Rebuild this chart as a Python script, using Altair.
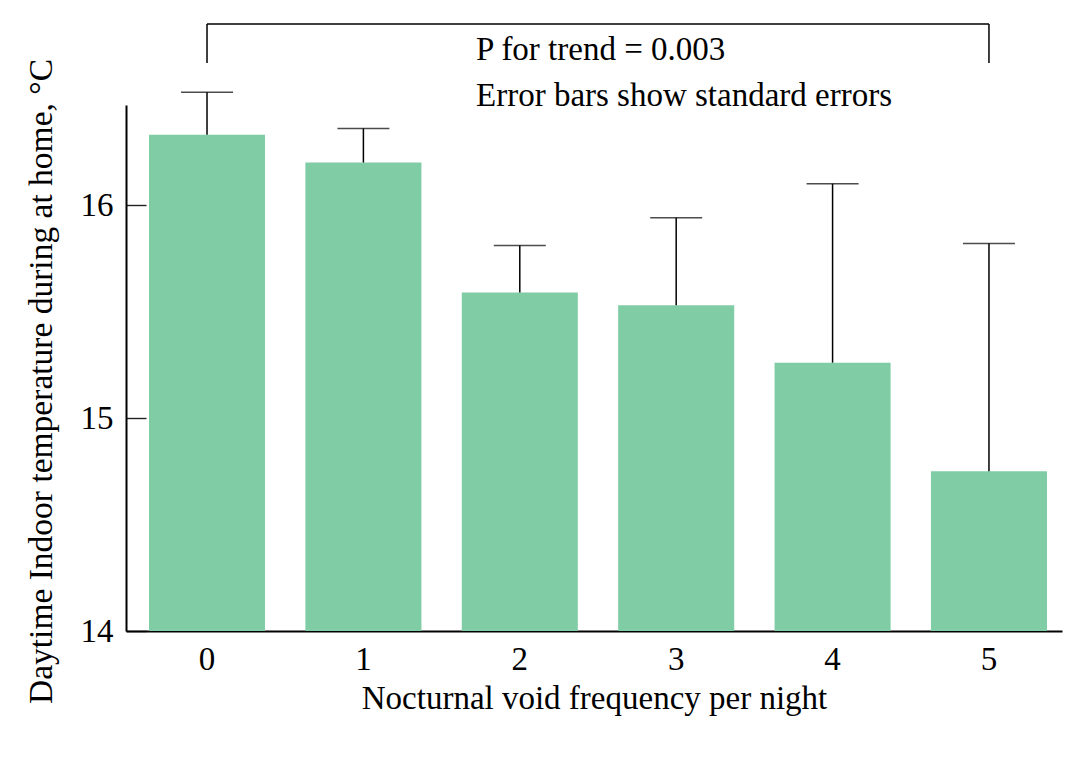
import altair as alt
import pandas as pd

categories = ["0", "1", "2", "3", "4", "5"]
means = [16.33, 16.20, 15.59, 15.53, 15.26, 14.75]
upper = [16.53, 16.36, 15.81, 15.94, 16.10, 15.82]
y_ticks = [14, 15, 16]
notes_text = ["P for trend = 0.003", "Error bars show standard errors"]

FONT = "Liberation Serif"
FS = 33
BAR_COLOR = "#80CCA5"

df = pd.DataFrame({"cat": categories, "mean": means, "upper": upper})
bracket_df = pd.DataFrame({"a": [categories[0]], "b": [categories[-1]]})
ends_df = pd.DataFrame({"cat": [categories[0], categories[-1]]})
notes_df = pd.DataFrame({"txt": notes_text, "row": list(range(len(notes_text)))})

x_scale = alt.Scale(domain=categories, paddingInner=0.258, paddingOuter=0.1215, align=0.605)
y_scale = alt.Scale(domain=[14, 16.47], nice=False, zero=False)

x_enc = alt.X("cat:N", scale=x_scale, sort=categories,
              axis=alt.Axis(title="Nocturnal void frequency per night", labelAngle=0,
                            ticks=False, labelPadding=12, titlePadding=6,
                            domainColor="black", domainWidth=2,
                            labelFont=FONT, titleFont=FONT, labelFontSize=FS,
                            titleFontSize=FS, titleFontWeight="normal", labelColor="black",
                            titleColor="black"))

# inward y ticks are drawn as the first short dash of each grid line
bars = alt.Chart(df).mark_bar(color=BAR_COLOR).encode(
    x=x_enc,
    y=alt.Y("mean:Q", scale=y_scale,
            axis=alt.Axis(title="Daytime Indoor temperature during at home, °C",
                          values=y_ticks, ticks=False, grid=True, gridDash=[20, 3000],
                          gridColor="#222222", gridWidth=1.4, gridOpacity=1,
                          labelPadding=13,
                          titlePadding=22, titleY=276, domainColor="black", domainWidth=2,
                          labelFont=FONT, titleFont=FONT, labelFontSize=FS,
                          titleFontSize=FS + 0.5, titleFontWeight="normal", labelColor="black",
                          titleColor="black", format="d")),
    y2=alt.Y2(datum=14),
)

err = alt.Chart(df).mark_rule(color="black", strokeWidth=1.5, clip=False).encode(
    x=alt.X("cat:N", scale=x_scale, sort=categories),
    y=alt.Y("mean:Q", scale=y_scale),
    y2="upper:Q",
)

caps = alt.Chart(df).mark_tick(color="black", thickness=1.5, size=52, orient="horizontal", clip=False).encode(
    x=alt.X("cat:N", scale=x_scale, sort=categories),
    y=alt.Y("upper:Q", scale=y_scale),
)

bracket_h = alt.Chart(bracket_df).mark_rule(color="black", strokeWidth=1.5, clip=False).encode(
    x=alt.X("a:N", scale=x_scale, sort=categories),
    x2="b:N",
    y=alt.value(-81),
)

bracket_v = alt.Chart(ends_df).mark_rule(color="black", strokeWidth=1.5, clip=False).encode(
    x=alt.X("cat:N", scale=x_scale, sort=categories),
    y=alt.value(-81),
    y2=alt.value(-42),
)

notes = alt.Chart(notes_df).transform_calculate(
    ypos="datum.row * 46 - 45"
).mark_text(align="left", baseline="alphabetic", font=FONT, fontSize=FS, color="black").encode(
    text="txt:N",
    x=alt.value(350),
    y=alt.Y("ypos:Q", scale=None),
)

chart = alt.layer(bars, err, caps, bracket_h, bracket_v, notes).properties(
    width=936, height=526,
    autosize=alt.AutoSizeParams(type="none"),
    padding={"left": 118, "top": 97, "right": 22, "bottom": 135},
).configure_view(stroke=None)

chart.save("out.html", embed_options={"renderer": "svg", "actions": False})
